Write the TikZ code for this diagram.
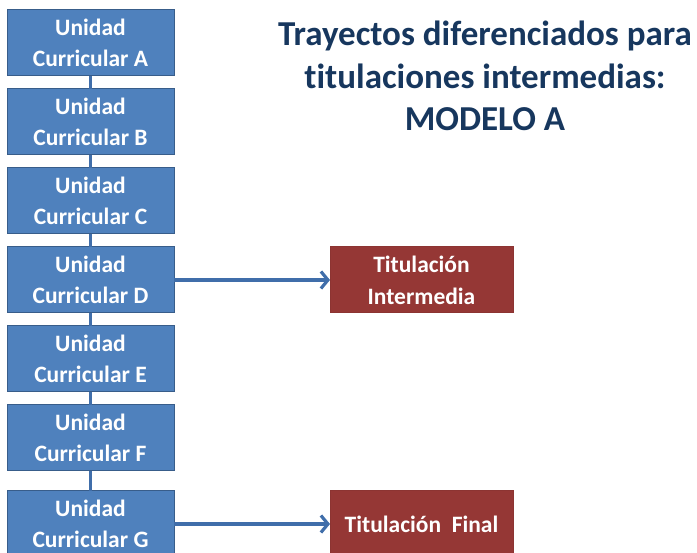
\documentclass[tikz,border=0pt]{standalone}
\usepackage{fontspec}
\setmainfont{Carlito}[Ligatures=NoCommon]
\usepackage{xcolor}
\usepackage{tikz}
\usetikzlibrary{arrows.meta, positioning}

\definecolor{ucblue}{RGB}{79,129,189}
\definecolor{ucborder}{RGB}{56,93,138}
\definecolor{titred}{RGB}{149,55,53}
\definecolor{titborder}{RGB}{140,52,50}
\definecolor{linkblue}{RGB}{64,110,170}
\definecolor{headnavy}{RGB}{23,55,94}

\begin{document}
\begin{tikzpicture}[node distance=13pt, auto]

    % Define style for boxes
    \tikzstyle{unit} = [rectangle, minimum width=167pt, minimum height=66pt, inner sep=0pt, outer sep=0pt, text centered, align=center, draw=ucborder, line width=1pt, fill=ucblue, text=white, font=\bfseries\fontsize{23.5}{31}\selectfont]
    \tikzstyle{titl} = [rectangle, minimum width=183pt, minimum height=66pt, inner sep=0pt, outer sep=0pt, text centered, align=center, draw=titborder, line width=1pt, fill=titred, text=white, font=\bfseries\fontsize{23.5}{32}\selectfont]
    \tikzstyle{link} = [draw=linkblue, line width=3.2pt]

    \clip (0pt,0pt) rectangle (697pt,-553pt);

    % Nodes
    \node (ucA) [unit] at (90.5pt,-43pt) {Unidad\\Curricular A};
    \node (ucB) [unit, below =of ucA] {Unidad\\Curricular B};
    \node (ucC) [unit, below =of ucB] {Unidad\\Curricular C};
    \node (ucD) [unit, below =of ucC] {Unidad\\Curricular D};
    \node (ucE) [unit, below =of ucD] {Unidad\\Curricular E};
    \node (ucF) [unit, below =of ucE] {Unidad\\Curricular F};
    \node (ucG) [unit, below =20pt of ucF] {Unidad\\Curricular G};

    \node (titinter)[titl, right =156pt of ucD] {Titulación\\Intermedia};
    \node (titfinal)[titl, right =156pt of ucG] {Titulación\ \ Final};

    \node (heading) [align=center, text=headnavy, font=\bfseries\fontsize{35}{42.5}\selectfont] at (485pt,-76pt) {Trayectos diferenciados para\\titulaciones intermedias:\\MODELO A};

    % Lines
    \draw[link] (ucA) -- (ucB);
    \draw[link] (ucB) -- (ucC);
    \draw[link] (ucC) -- (ucD);
    \draw[link] (ucD) -- (ucE);
    \draw[link] (ucE) -- (ucF);
    \draw[link] (ucF) -- (ucG);

    \draw[link, -{Straight Barb[length=7pt, width=17pt]}] (ucD) -- (titinter);
    \draw[link, -{Straight Barb[length=7pt, width=17pt]}] (ucG) -- (titfinal);

\end{tikzpicture}
\end{document}
